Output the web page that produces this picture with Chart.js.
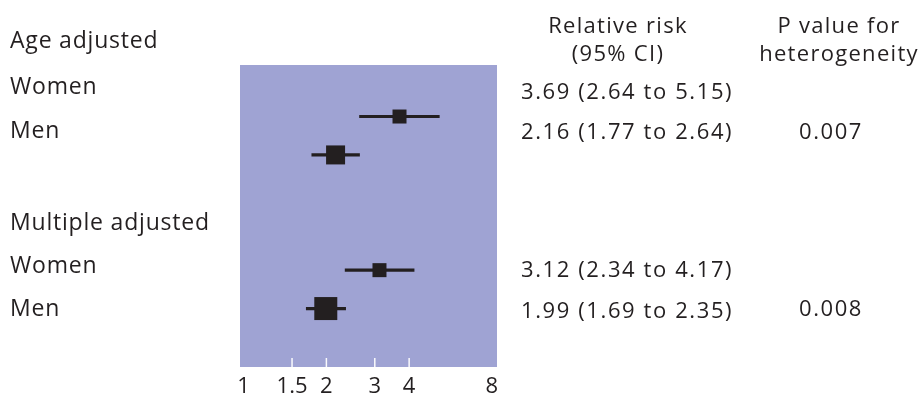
<!DOCTYPE html>
<html>
<head>
<meta charset="utf-8">
<script src="https://cdn.jsdelivr.net/npm/chart.js@4/dist/chart.umd.min.js"></script>
<style>
  html, body { margin: 0; padding: 0; background: #ffffff; overflow: hidden; }
  #wrap { position: relative; width: 919px; height: 394px; }
</style>
</head>
<body>
<div id="wrap"><canvas id="c" width="919" height="394"></canvas></div>
<script>
// ---- data ----
const groups = ['Age adjusted', 'Multiple adjusted'];
const subgroups = ['Women', 'Men', 'Women', 'Men'];
const subgroupGroup = [0, 0, 1, 1];
const relRisk = [3.69, 2.16, 3.12, 1.99];
const ciLow = [2.64, 1.77, 2.34, 1.69];
const ciHigh = [5.15, 2.64, 4.17, 2.35];
const pHetero = ['0.007', '0.008'];
const tickValues = [1, 1.5, 2, 3, 4, 8];
const headers = [['Relative risk', '(95% CI)'], ['P value for', 'heterogeneity']];

// ---- layout / style (not data) ----
const INK = '#231f20';
const PANEL = '#9fa3d3';
const markerSide = [14, 19, 14, 23];
const FONT = '"Open Sans", "Noto Sans", sans-serif';
const labelY = { heads: [48, 230], subs: [94, 138, 273, 316] };
const numY = [99, 139, 277, 318];
const pY = [139, 316];

// row index for each subgroup: one header row per group, then its subgroups, then a blank row
const rowOf = subgroups.map((s, i) => {
  const g = subgroupGroup[i];
  const within = subgroupGroup.slice(0, i).filter(x => x === g).length;
  return g * 4 + 1 + within;
});

const fmt = v => v.toFixed(2);

function setSpacing(ctx, px) {
  if ('letterSpacing' in ctx) ctx.letterSpacing = px + 'px';
}

const panelPlugin = {
  id: 'panel',
  beforeDraw(chart) {
    const { ctx, chartArea: a } = chart;
    ctx.save();
    ctx.fillStyle = PANEL;
    ctx.fillRect(a.left, a.top, a.right - a.left, a.bottom - a.top);
    ctx.restore();
  },
  beforeDatasetsDraw(chart) {
    const { ctx, chartArea: a, scales } = chart;
    ctx.save();
    ctx.strokeStyle = 'rgba(255,255,255,0.95)';
    ctx.lineWidth = 1.5;
    tickValues.forEach(v => {
      if (v === tickValues[0] || v === tickValues[tickValues.length - 1]) return;
      const x = scales.x.getPixelForValue(v);
      ctx.beginPath();
      ctx.moveTo(x, a.bottom);
      ctx.lineTo(x, a.bottom - 9);
      ctx.stroke();
    });
    ctx.restore();
  },
  afterDraw(chart) {
    const { ctx } = chart;
    ctx.save();
    ctx.fillStyle = INK;
    ctx.textBaseline = 'alphabetic';
    // left labels
    ctx.textAlign = 'left';
    ctx.font = '23px ' + FONT;
    setSpacing(ctx, 0.8);
    groups.forEach((g, i) => ctx.fillText(g, 10, labelY.heads[i]));
    subgroups.forEach((s, i) => ctx.fillText(s, 10, labelY.subs[i]));
    // headers
    ctx.textAlign = 'center';
    ctx.font = '22px ' + FONT;
    setSpacing(ctx, 1.3);
    ctx.fillText(headers[0][0], 618, 33);
    ctx.fillText(headers[0][1], 618, 61);
    ctx.fillText(headers[1][0], 839, 33);
    ctx.fillText(headers[1][1], 839, 61);
    // relative risk text
    ctx.textAlign = 'left';
    ctx.font = '22px ' + FONT;
    setSpacing(ctx, 1.6);
    relRisk.forEach((r, i) => {
      ctx.fillText(fmt(r) + ' (' + fmt(ciLow[i]) + ' to ' + fmt(ciHigh[i]) + ')', 521, numY[i]);
    });
    ctx.textAlign = 'center';
    pHetero.forEach((p, i) => ctx.fillText(p, 831, pY[i]));
    ctx.restore();
  }
};

new Chart(document.getElementById('c'), {
  type: 'bar',
  data: {
    datasets: [
      {
        type: 'scatter',
        order: 0,
        data: relRisk.map((r, i) => ({ x: r, y: rowOf[i] })),
        pointStyle: 'rect',
        pointRadius: markerSide.map(s => s / (2 * Math.SQRT1_2)),
        backgroundColor: INK,
        borderColor: INK,
        borderWidth: 0
      },
      {
        type: 'bar',
        order: 1,
        indexAxis: 'y',
        data: relRisk.map((r, i) => ({ x: [ciLow[i], ciHigh[i]], y: rowOf[i] })),
        backgroundColor: INK,
        borderWidth: 0,
        barThickness: 2.5,
        borderSkipped: false
      }
    ]
  },
  options: {
    responsive: false,
    animation: false,
    events: [],
    layout: { padding: { left: 240, right: 422, top: 65, bottom: 0 } },
    plugins: { legend: { display: false }, tooltip: { enabled: false } },
    scales: {
      x: {
        type: 'logarithmic',
        position: 'bottom',
        min: 0.97,
        max: 8.35,
        grid: { display: false, drawTicks: false },
        border: { display: false },
        afterBuildTicks: s => { s.ticks = tickValues.map(v => ({ value: v })); },
        afterFit: s => { s.height = 27; },
        ticks: {
          autoSkip: false,
          maxRotation: 0,
          padding: 7,
          color: INK,
          font: { family: FONT, size: 22 },
          callback: v => String(v)
        }
      },
      y: {
        type: 'linear',
        display: false,
        reverse: true,
        min: 0.15,
        max: 7.03
      }
    }
  },
  plugins: [panelPlugin]
});
</script>
</body>
</html>
